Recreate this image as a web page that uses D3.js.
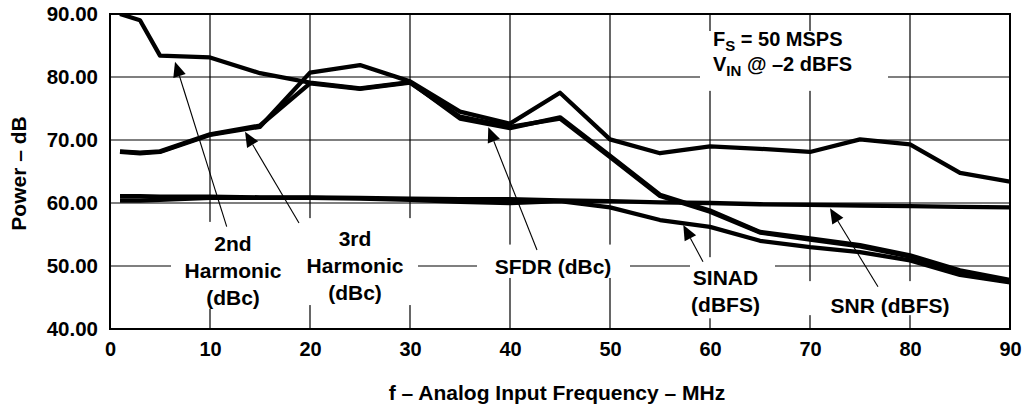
<!DOCTYPE html>
<html><head><meta charset="utf-8">
<script src="https://cdn.jsdelivr.net/npm/d3@7"></script>
<style>
html,body{margin:0;padding:0;background:#fff;}
svg text{font-family:"Liberation Sans",Arial,Helvetica,sans-serif;font-weight:bold;fill:#000;}
</style></head>
<body>
<svg id="chart" width="1026" height="408"></svg>
<script>
// ---- data ----
const freq   = [1, 3, 5, 10, 15, 20, 25, 30, 35, 40, 45, 50, 55, 60, 65, 70, 75, 80, 85, 90];
const harm2  = [90.0, 89.0, 83.4, 83.1, 80.6, 79.1, 78.2, 79.2, 73.4, 71.9, 73.6, 67.5, 61.3, 58.8, 55.4, 54.4, 53.3, 51.7, 49.3, 47.8];
const harm3  = [68.1, 67.9, 68.1, 70.8, 72.1, 80.7, 81.9, 79.3, 74.5, 72.6, 77.5, 70.1, 67.9, 69.0, 68.6, 68.1, 70.1, 69.3, 64.8, 63.4];
const sfdr   = [68.2, 68.0, 68.2, 70.9, 72.3, 79.0, 78.1, 79.1, 73.7, 72.1, 73.4, 67.3, 61.1, 58.6, 55.3, 54.2, 53.1, 51.5, 49.1, 47.6];
const sinad  = [60.4, 60.4, 60.5, 60.8, 60.8, 60.8, 60.7, 60.5, 60.2, 60.0, 60.3, 59.3, 57.3, 56.2, 54.0, 53.0, 52.2, 50.9, 48.6, 47.4];
const snr    = [61.1, 61.1, 61.0, 61.0, 60.9, 60.9, 60.8, 60.7, 60.6, 60.6, 60.4, 60.3, 60.1, 60.0, 59.8, 59.7, 59.6, 59.5, 59.4, 59.3];
const xTicks = [0, 10, 20, 30, 40, 50, 60, 70, 80, 90];
const yTicks = [40, 50, 60, 70, 80, 90];
const xTitle = "f – Analog Input Frequency – MHz";
const yTitle = "Power – dB";
// annotation labels: [f, dB] anchor of first line centre
const labelText = [["2nd", "Harmonic", "(dBc)"], ["3rd", "Harmonic", "(dBc)"], ["SFDR (dBc)"], ["SINAD", "(dBFS)"], ["SNR (dBFS)"]];
const labelPos  = [[12.3, 53.65], [24.5, 54.3], [44.3, 50.0], [61.55, 48.25], [78.0, 43.8]];
// white boxes behind labels: [f0, f1, dBtop, dBbottom]
const boxes = [[6.1, 19.0, 57.0, 43.2], [19.0, 30.8, 57.6, 43.8], [36.7, 52.0, 53.4, 48.1], [58.0, 66.5, 51.4, 41.7], [69.0, 87.5, 47.6, 42.2], [59.0, 77.8, 87.3, 77.8]];
// arrows: [tailF, tailDb, tipF, tipDb]
const arrows = [[11.67, 56.24, 6.5, 82.43], [18.9, 56.83, 13.5, 71.32], [42.7, 52.54, 37.83, 72.02], [59.3, 50.68, 57.33, 56.51], [76.8, 46.71, 72.0, 59.16]];
// condition note position
const notePos = [60.3, 84.9, 80.95];

// ---- layout ----
const W = 1026, H = 408;
const m = {left: 110, right: 1010, top: 14, bottom: 329};
const svg = d3.select("#chart");
const x = d3.scaleLinear().domain([0, 90]).range([m.left, m.right]);
const y = d3.scaleLinear().domain([40, 90]).range([m.bottom, m.top]);

// grid
const g = svg.append("g");
g.selectAll("line.vg").data(xTicks.slice(1, -1)).enter().append("line")
  .attr("x1", d => x(d)).attr("x2", d => x(d)).attr("y1", m.top).attr("y2", m.bottom)
  .attr("stroke", "#000").attr("stroke-width", 1.2);
g.selectAll("line.hg").data(yTicks.slice(1, -1)).enter().append("line")
  .attr("x1", m.left).attr("x2", m.right).attr("y1", d => y(d)).attr("y2", d => y(d))
  .attr("stroke", "#000").attr("stroke-width", 1.2);

// white boxes
svg.selectAll("rect.box").data(boxes).enter().append("rect")
  .attr("x", d => x(d[0])).attr("width", d => x(d[1]) - x(d[0]))
  .attr("y", d => y(d[2])).attr("height", d => y(d[3]) - y(d[2]))
  .attr("fill", "#fff");

// series
const series = [harm3, harm2, sfdr, snr, sinad];
const line = d3.line().x((d, i) => x(freq[i])).y(d => y(d));
svg.append("defs").append("clipPath").attr("id", "clip").append("rect")
  .attr("x", m.left).attr("y", m.top - 1).attr("width", m.right - m.left).attr("height", m.bottom - m.top + 1);
svg.append("g").attr("clip-path", "url(#clip)").selectAll("path.s").data(series).enter().append("path")
  .attr("d", d => line(d)).attr("fill", "none").attr("stroke", "#000")
  .attr("stroke-width", 4.3).attr("stroke-linejoin", "round");

// frame
svg.append("rect").attr("x", m.left).attr("y", m.top).attr("width", m.right - m.left).attr("height", m.bottom - m.top)
  .attr("fill", "none").attr("stroke", "#000").attr("stroke-width", 2);

// axes
const ax = svg.append("g").attr("transform", `translate(0,${m.bottom})`)
  .call(d3.axisBottom(x).tickValues(xTicks).tickSize(0).tickPadding(13).tickFormat(d3.format("d")));
ax.select(".domain").remove();
ax.selectAll("text").style("font-size", "20px").style("font-family", "'Liberation Sans',Arial,sans-serif").style("font-weight", "bold");
const ay = svg.append("g").attr("transform", `translate(${m.left},0)`)
  .call(d3.axisLeft(y).tickValues(yTicks).tickSize(0).tickPadding(12).tickFormat(d3.format(".2f")));
ay.select(".domain").remove();
ay.selectAll("text").style("font-size", "20.5px").style("font-family", "'Liberation Sans',Arial,sans-serif").style("font-weight", "bold");

// titles
svg.append("text").attr("x", (m.left + m.right) / 2 - 3).attr("y", 400).attr("text-anchor", "middle")
  .style("font-size", "21px").text(xTitle);
svg.append("text").attr("transform", `translate(26,${(m.top + m.bottom) / 2 + 2}) rotate(-90)`)
  .attr("text-anchor", "middle").style("font-size", "21px").text(yTitle);

// labels
labelText.forEach((lines, k) => {
  const t = svg.append("text").attr("text-anchor", "middle").style("font-size", "21px");
  lines.forEach((s, j) => {
    t.append("tspan").attr("x", x(labelPos[k][0])).attr("y", y(labelPos[k][1]) + j * 27).attr("dy", "0.36em").text(s);
  });
});

// arrows
arrows.forEach(a => {
  const x0 = x(a[0]), y0 = y(a[1]), x1 = x(a[2]), y1 = y(a[3]);
  const dx = x1 - x0, dy = y1 - y0, L = Math.hypot(dx, dy), ux = dx / L, uy = dy / L;
  const hl = 15, hw = 6.5;
  const bx = x1 - ux * hl, by = y1 - uy * hl;
  svg.append("line").attr("x1", x0).attr("y1", y0).attr("x2", bx).attr("y2", by)
    .attr("stroke", "#000").attr("stroke-width", 1.1);
  svg.append("path").attr("d", `M${x1},${y1}L${bx - uy * hw},${by + ux * hw}L${bx + uy * hw},${by - ux * hw}Z`)
    .attr("fill", "#000");
});

// condition note
const n1 = svg.append("text").attr("x", x(notePos[0])).attr("y", y(notePos[1])).style("font-size", "20px");
n1.append("tspan").text("F");
n1.append("tspan").attr("dy", 5).style("font-size", "15px").text("S");
n1.append("tspan").attr("dy", -5).text(" = 50 MSPS");
const n2 = svg.append("text").attr("x", x(notePos[0])).attr("y", y(notePos[2])).style("font-size", "20px");
n2.append("tspan").text("V");
n2.append("tspan").attr("dy", 5).style("font-size", "15px").text("IN");
n2.append("tspan").attr("dy", -5).text(" @ –2 dBFS");
</script>
</body></html>
